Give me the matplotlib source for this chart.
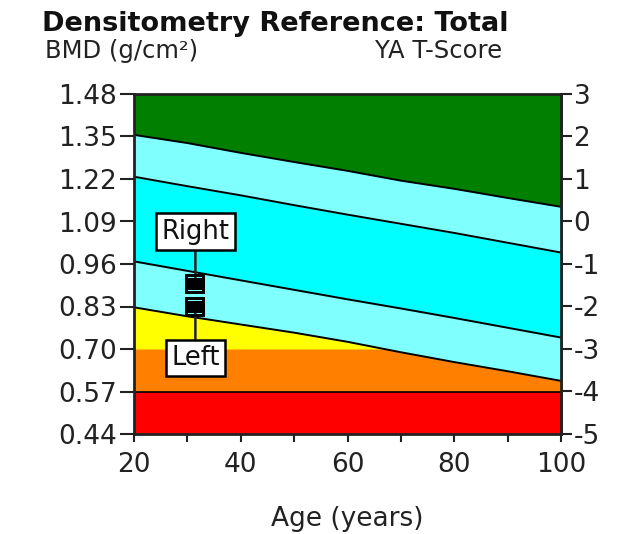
import matplotlib
matplotlib.use('Agg')
import matplotlib.pyplot as plt
import numpy as np
from matplotlib.path import Path

# reference curves (BMD g/cm2) read by age
ages = [20, 30, 40, 50, 60, 70, 80, 90, 100]
curve_top = [1.355, 1.33, 1.30, 1.272, 1.245, 1.215, 1.19, 1.162, 1.135]
curve_upper = [1.227, 1.198, 1.17, 1.14, 1.111, 1.083, 1.055, 1.025, 0.995]
curve_lower = [0.968, 0.939, 0.91, 0.881, 0.852, 0.824, 0.795, 0.765, 0.735]
curve_bottom = [0.8275, 0.80, 0.775, 0.75, 0.722, 0.69, 0.66, 0.632, 0.6025]

level_osteo = 0.70
level_red = 0.57

bmd_ticks = [0.44, 0.57, 0.70, 0.83, 0.96, 1.09, 1.22, 1.35, 1.48]
t_ticks = [-5, -4, -3, -2, -1, 0, 1, 2, 3]
age_ticks = [20, 40, 60, 80, 100]
age_minor = [30, 50, 70, 90]

# measured points
pt_age = [31.5, 31.5]
pt_bmd = [0.90, 0.829]
pt_names = ['Right', 'Left']
label_bmd = [1.059, 0.673]

dark_green = '#007f00'
light_cyan = '#80ffff'
cyan = '#00ffff'
yellow = '#ffff00'
orange = '#ff8000'
red = '#ff0000'

ages = np.array(ages)
c1 = np.array(curve_top)
c2 = np.array(curve_upper)
c3 = np.array(curve_lower)
c4 = np.array(curve_bottom)
ymin, ymax = bmd_ticks[0], bmd_ticks[-1]

plt.rcParams['font.family'] = 'DejaVu Sans'
plt.rcParams['axes.unicode_minus'] = False

fig = plt.figure(figsize=(6.22, 5.34), dpi=100)
ax = fig.add_axes([134/622, 1 - 434/534, (561-134)/622, (434-94)/534])

ax.fill_between(ages, ymin, level_red, color=red, lw=0)
ax.fill_between(ages, level_red, c4, color=orange, lw=0)
ax.fill_between(ages, level_osteo, c4, where=c4 >= level_osteo, interpolate=True,
                color=yellow, lw=0)
ax.fill_between(ages, c4, c3, color=light_cyan, lw=0)
ax.fill_between(ages, c3, c2, color=cyan, lw=0)
ax.fill_between(ages, c2, c1, color=light_cyan, lw=0)
ax.fill_between(ages, c1, ymax, color=dark_green, lw=0)

for c in (c1, c2, c3, c4):
    ax.plot(ages, c, color='black', lw=1.4)
ax.axhline(level_red, color='black', lw=1.2)

# black block marker with two thin light stripes
verts = [(-1, -1), (1, -1), (1, 1), (-1, 1), (-1, -1),
         (-0.65, 0.56), (-0.65, 0.68), (0.65, 0.68), (0.65, 0.56), (-0.65, 0.56),
         (-0.65, -0.68), (-0.65, -0.56), (0.65, -0.56), (0.65, -0.68), (-0.65, -0.68)]
codes = [Path.MOVETO, Path.LINETO, Path.LINETO, Path.LINETO, Path.CLOSEPOLY] * 3
block = Path(verts, codes)

for a, b, name, lb in zip(pt_age, pt_bmd, pt_names, label_bmd):
    ax.annotate(name, xy=(a, b), xytext=(a, lb), ha='center', va='center',
                fontsize=18.5, color='#111111',
                bbox=dict(boxstyle='square,pad=0.2', fc='white', ec='black', lw=1.8),
                arrowprops=dict(arrowstyle='-', color='#222222', lw=1.8,
                                shrinkA=0, shrinkB=0),
                zorder=5)
ax.plot(pt_age, pt_bmd, ls='none', marker=block, markersize=15,
        color='black', markeredgewidth=0, zorder=6)

ax.set_xlim(20, 100)
ax.set_ylim(ymin, ymax)
ax.set_yticks(bmd_ticks)
ax.set_yticklabels(['%.2f' % v for v in bmd_ticks])
ax.set_xticks(age_ticks)
ax.set_xticks(age_minor, minor=True)
ax.tick_params(axis='y', length=10, width=1.5, labelsize=19, pad=2, colors='#222222')
ax.tick_params(axis='x', which='both', length=6, width=1.5, labelsize=19, pad=7,
               colors='#222222')
for s in ax.spines.values():
    s.set_linewidth(2)
    s.set_color('#222222')

sec = ax.secondary_yaxis('right', functions=(lambda y: (y - 1.09) / 0.13,
                                             lambda t: t * 0.13 + 1.09))
sec.set_yticks(t_ticks)
sec.tick_params(length=8, width=1.5, labelsize=19, pad=1, colors='#222222')
sec.spines['right'].set_linewidth(2)
sec.spines['right'].set_color('#333333')

ax.set_xlabel('Age (years)', fontsize=19, labelpad=20, color='#222222')

fig.text(275/622, 1 - 24/534, 'Densitometry Reference: Total', fontsize=19.5,
         fontweight='bold', ha='center', va='center', color='#111111')
fig.text(45/622, 1 - 51/534, 'BMD (g/cm²)', fontsize=17.5, ha='left', va='center',
         color='#222222')
fig.text(502/622, 1 - 51/534, 'YA T-Score', fontsize=17.5, ha='right', va='center',
         color='#222222')

fig.savefig('out.png', dpi=100)
